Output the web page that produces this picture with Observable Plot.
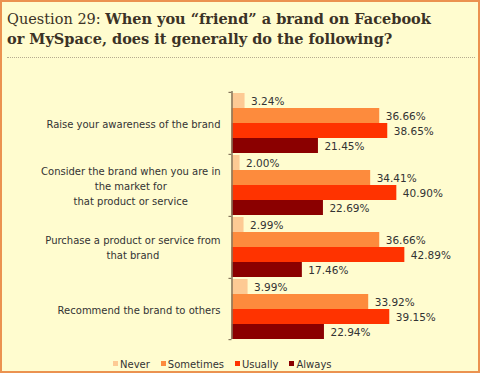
<!DOCTYPE html>
<html><head><meta charset="utf-8">
<script src="https://cdn.jsdelivr.net/npm/d3@7"></script>
<script src="https://cdn.jsdelivr.net/npm/@observablehq/plot@0.6"></script>
<style>
html,body{margin:0;padding:0;background:#fffccf;}
#wrap{position:relative;width:480px;height:373px;overflow:hidden;background:#fffccf;}
#border{position:absolute;left:0;top:0;width:480px;height:373px;box-sizing:border-box;border:2px solid #eb9250;pointer-events:none;z-index:5;}
#title{position:absolute;left:7px;top:9px;font-family:"DejaVu Serif";font-size:14.5px;line-height:19px;color:#3b3226;white-space:nowrap;}
#title b{font-weight:bold}
#rule{position:absolute;left:7px;top:57px;width:468px;border-top:1px dotted #b5ab8f;}
#chart{position:absolute;left:0;top:80px;}
#legend{position:absolute;left:113px;top:359px;display:flex;gap:11px;font-family:"DejaVu Sans";font-size:10px;line-height:12px;color:#333;}
.item{display:flex;align-items:flex-start;}
.sw{width:5px;height:5px;margin-top:2px;margin-right:2px;}
</style></head>
<body><div id="wrap">
<div id="border"></div>
<div id="title"></div>
<div id="rule"></div>
<div id="chart"></div>
<div id="legend"></div>
</div>
<script>
const titleLead = "Question 29:";
const titleBold = ["When you \u201cfriend\u201d a brand on Facebook", "or MySpace, does it generally do the following?"];
const questions = [
  "Raise your awareness of the brand",
  "Consider the brand when you are in\nthe market for\nthat product or service",
  "Purchase a product or service from\nthat brand",
  "Recommend the brand to others"
];
const series = ["Never", "Sometimes", "Usually", "Always"];
const never = [3.24, 2.00, 2.99, 3.99];
const sometimes = [36.66, 34.41, 36.66, 33.92];
const usually = [38.65, 40.90, 42.89, 39.15];
const always = [21.45, 22.69, 17.46, 22.94];
const colors = ["#fdca94", "#fd8b3d", "#ff3300", "#8b0000"];

document.getElementById("title").innerHTML =
  titleLead + " <b>" + titleBold[0] + "</b><br><b>" + titleBold[1] + "</b>";

const valuesBySeries = [never, sometimes, usually, always];
const rows = questions.flatMap((q, i) => series.map((s, j) => ({q, s, v: valuesBySeries[j][i]})));

const W = 480, H = 270, mt = 12, mb = 9, ml = 231.5, mr = 47;
const padF = 0.032;
const inner = H - mt - mb;
const step = inner / (questions.length - padF);
const fh = step * (1 - padF);
const gapPx = step - fh;
const bw = fh / series.length;

const labelFont = "DejaVu Sans", labelSize = 10, lineH = 15;
const ctx = document.createElement("canvas").getContext("2d");
ctx.font = labelSize + "px '" + labelFont + "'";
const labelMarks = questions.flatMap(q => {
  const lines = q.split("\n");
  const ws = lines.map(l => ctx.measureText(l).width);
  const maxW = Math.max(...ws);
  return lines.map((l, k) => Plot.text([q], {
    fy: d => d, text: () => l, frameAnchor: "left", textAnchor: "end",
    dx: -(11.5 + (maxW - ws[k]) / 2), dy: (k - (lines.length - 1) / 2) * lineH + 1,
    fontFamily: labelFont, fontSize: labelSize, fill: "#333"
  }));
});

const axisColor = "#85765c";
const marks = [
  Plot.barX(rows, {fy: "q", y: "s", x: "v", fill: "s"}),
  Plot.text(rows, {fy: "q", y: "s", x: "v", text: d => d.v.toFixed(2) + "%", dx: 6, dy: 1, textAnchor: "start",
    fontFamily: "DejaVu Sans", fontSize: 10.5, fill: "#333"}),
  Plot.ruleX(questions, {fy: d => d, x: () => 0, stroke: axisColor, strokeWidth: 1.5, insetTop: -gapPx}),
  Plot.ruleY(questions, {fy: d => d, y: () => series[0], x1: () => -0.75, x2: () => 0, dy: -bw / 2 - gapPx / 2, stroke: axisColor, strokeWidth: 1.2}),
  Plot.ruleY([questions[questions.length - 1]], {fy: d => d, y: () => series[series.length - 1], x1: () => -0.75, x2: () => 0, dy: bw / 2, stroke: axisColor, strokeWidth: 1.2}),
  ...labelMarks
];

const chart = Plot.plot({
  width: W, height: H,
  marginTop: mt, marginBottom: mb, marginLeft: ml, marginRight: mr,
  style: {background: "transparent", overflow: "visible"},
  facet: {marginTop: 0, marginBottom: 0, marginLeft: 0, marginRight: 0},
  x: {domain: [0, 50], axis: null},
  y: {domain: series, padding: 0, axis: null},
  fy: {domain: questions, paddingInner: padF, paddingOuter: 0, axis: null},
  color: {domain: series, range: colors},
  marks
});
document.getElementById("chart").appendChild(chart);

const leg = document.getElementById("legend");
series.forEach((s, i) => {
  const it = document.createElement("div");
  it.className = "item";
  const sw = document.createElement("div");
  sw.className = "sw";
  sw.style.background = colors[i];
  const t = document.createElement("span");
  t.textContent = s;
  it.appendChild(sw); it.appendChild(t);
  leg.appendChild(it);
});
</script>
</body></html>
